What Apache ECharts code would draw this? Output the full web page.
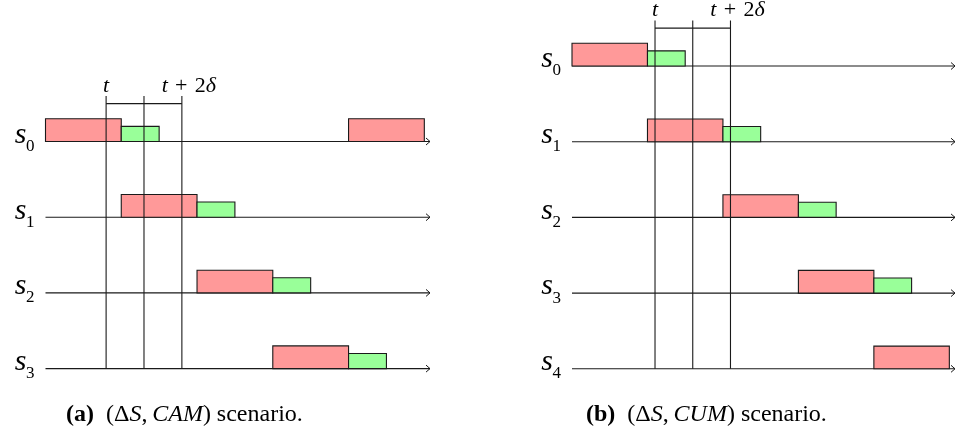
<!DOCTYPE html>
<html>
<head>
<meta charset="utf-8">
<script src="https://cdn.jsdelivr.net/npm/echarts@6/dist/echarts.min.js"></script>
<style>html,body{margin:0;padding:0;background:#fff;}#c{width:955px;height:437px;}</style>
</head>
<body>
<div id="c"></div>
<script>
// ---- data (x in time units, lane index) ----
const lanesA = ['0', '1', '2', '3'];
const redA = [[0, 2, 0], [8, 10, 0], [2, 4, 1], [4, 6, 2], [6, 8, 3]];   // [start, end, lane]
const greenA = [[2, 3, 0], [4, 5, 1], [6, 7, 2], [8, 9, 3]];
const marksA = [1.6, 2.6, 3.6];   // t, t+δ, t+2δ

const lanesB = ['0', '1', '2', '3', '4'];
const redB = [[0, 2, 0], [2, 4, 1], [4, 6, 2], [6, 8, 3], [8, 10, 4]];
const greenB = [[2, 3, 0], [4, 5, 1], [6, 7, 2], [8, 9, 3]];
const marksB = [2.2, 3.2, 4.2];

const markTextStart = 't';
const markTextEnd = ['t', '\u2004+\u20042', 'δ'];
const captionA = ['(a)', 'CAM'];
const captionB = ['(b)', 'CUM'];

// ---- style constants ----
const LANE_GAP = 2, RED_H = 0.6, GREEN_H = 0.4, AXIS_END = 10.15;
const MARK_TOP = -1.2, BRACKET_Y = -1;
const SERIF = 'Liberation Serif';
const INK = '#1a1a1a';
const LW = 1.1;
const RED = '#FF9999', GREEN = '#99FF99';

function boxSeries(data, h, color, idx) {
  return {
    type: 'custom', xAxisIndex: idx, yAxisIndex: idx, clip: false, silent: true, z: 3,
    data: data,
    renderItem: function (params, api) {
      const s = api.value(0), e = api.value(1), lane = api.value(2);
      const p0 = api.coord([s, lane * LANE_GAP]);
      const p1 = api.coord([e, lane * LANE_GAP - h]);
      return {
        type: 'rect',
        shape: { x: p0[0], y: p1[1], width: p1[0] - p0[0], height: p0[1] - p1[1] },
        style: { fill: color, stroke: INK, lineWidth: LW }
      };
    }
  };
}

function laneSeries(labels, idx) {
  return {
    type: 'custom', xAxisIndex: idx, yAxisIndex: idx, clip: false, silent: true, z: 2,
    data: labels.map(function (_, i) { return [i]; }),
    renderItem: function (params, api) {
      const lane = api.value(0);
      const pa = api.coord([0, lane * LANE_GAP]);
      const pb = api.coord([AXIS_END, lane * LANE_GAP]);
      return {
        type: 'group',
        children: [
          { type: 'line', shape: { x1: pa[0], y1: pa[1], x2: pb[0], y2: pb[1] },
            style: { stroke: INK, lineWidth: LW } },
          { type: 'polyline', shape: { points: [[pb[0] - 4, pb[1] - 3.5], [pb[0], pb[1]], [pb[0] - 4, pb[1] + 3.5]] },
            style: { stroke: INK, lineWidth: 1, fill: null } },
          { type: 'text', style: { text: 's', x: pa[0] - 19, y: pa[1] - 6.5, align: 'right', verticalAlign: 'middle',
            font: 'italic 30px ' + SERIF, fill: '#000' } },
          { type: 'text', style: { text: labels[params.dataIndex], x: pa[0] - 19.5, y: pa[1] + 5, align: 'left', verticalAlign: 'middle',
            font: '17px ' + SERIF, fill: '#000' } }
        ]
      };
    }
  };
}

function markSeries(marks, nLanes, idx) {
  return {
    type: 'custom', xAxisIndex: idx, yAxisIndex: idx, clip: false, silent: true, z: 4,
    data: marks.map(function (m) { return [m]; }),
    renderItem: function (params, api) {
      const x = api.value(0);
      const a = api.coord([x, MARK_TOP]);
      const b = api.coord([x, (nLanes - 1) * LANE_GAP]);
      return { type: 'line', shape: { x1: a[0], y1: a[1], x2: b[0], y2: b[1] },
        style: { stroke: INK, lineWidth: LW } };
    }
  };
}

function bracketSeries(marks, idx) {
  return {
    type: 'custom', xAxisIndex: idx, yAxisIndex: idx, clip: false, silent: true, z: 4,
    data: [[marks[0], marks[marks.length - 1]]],
    renderItem: function (params, api) {
      const a = api.coord([api.value(0), BRACKET_Y]);
      const b = api.coord([api.value(1), BRACKET_Y]);
      const top = api.coord([api.value(0), MARK_TOP]);
      const rich = {
        i: { fontFamily: SERIF, fontStyle: 'italic', fontSize: 22, fill: '#000' },
        r: { fontFamily: SERIF, fontSize: 22, fill: '#000' }
      };
      return {
        type: 'group',
        children: [
          { type: 'line', shape: { x1: a[0], y1: a[1], x2: b[0], y2: b[1] }, style: { stroke: INK, lineWidth: LW } },
          { type: 'text', style: { text: '{i|' + markTextStart + '}', rich: rich, x: a[0], y: top[1] - 10,
            align: 'center', verticalAlign: 'middle' } },
          { type: 'text', style: { text: '{i|' + markTextEnd[0] + '}{r|' + markTextEnd[1] + '}{i|' + markTextEnd[2] + '}',
            rich: rich, x: b[0] + 7, y: top[1] - 10, align: 'center', verticalAlign: 'middle' } }
        ]
      };
    }
  };
}

function caption(parts, left) {
  const base = { fontFamily: SERIF, fontSize: 24, color: '#000', fontWeight: 'normal' };
  return {
    left: left, top: 403, padding: 0,
    text: '{b|' + parts[0] + '}  {r|(Δ}{i|S}{r|,\u2009}{i|' + parts[1] + '}{r|) scenario.}',
    textStyle: Object.assign({}, base, {
      rich: {
        b: Object.assign({}, base, { fontWeight: 'bold' }),
        r: Object.assign({}, base),
        i: Object.assign({}, base, { fontStyle: 'italic' })
      }
    })
  };
}

const chart = echarts.init(document.getElementById('c'), null, { renderer: 'canvas' });
chart.setOption({
  animation: false,
  backgroundColor: '#fff',
  title: [caption(captionA, 66), caption(captionB, 586)],
  grid: [
    { left: 45.5, top: 141.5, width: 384.5, height: 227.1 },
    { left: 572, top: 66, width: 384.5, height: 302.8 }
  ],
  xAxis: [
    { type: 'value', gridIndex: 0, min: 0, max: AXIS_END, show: false },
    { type: 'value', gridIndex: 1, min: 0, max: AXIS_END, show: false }
  ],
  yAxis: [
    { type: 'value', gridIndex: 0, min: 0, max: (lanesA.length - 1) * LANE_GAP, inverse: true, show: false },
    { type: 'value', gridIndex: 1, min: 0, max: (lanesB.length - 1) * LANE_GAP, inverse: true, show: false }
  ],
  series: [
    laneSeries(lanesA, 0),
    boxSeries(redA, RED_H, RED, 0),
    boxSeries(greenA, GREEN_H, GREEN, 0),
    markSeries(marksA, lanesA.length, 0),
    bracketSeries(marksA, 0),
    laneSeries(lanesB, 1),
    boxSeries(redB, RED_H, RED, 1),
    boxSeries(greenB, GREEN_H, GREEN, 1),
    markSeries(marksB, lanesB.length, 1),
    bracketSeries(marksB, 1)
  ]
});
</script>
</body>
</html>
